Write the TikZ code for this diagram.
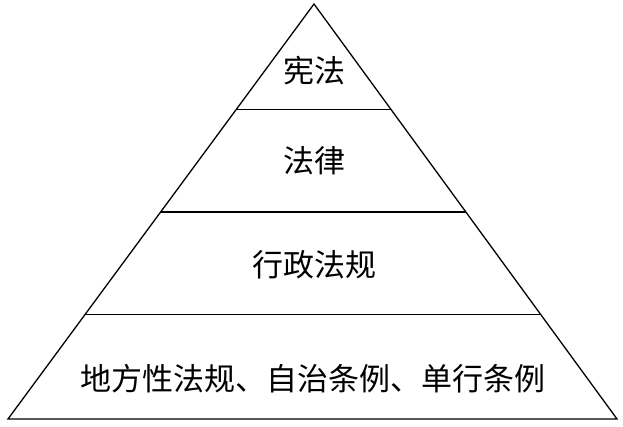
\documentclass[tikz,border=0pt]{standalone}
\usepackage{fontspec}
\setmainfont{Noto Sans CJK SC}
\usetikzlibrary{calc}

\begin{document}
\begin{tikzpicture}[x=1pt, y=1pt, line width=1.3pt,
    level/.style={font=\fontsize{31}{31}\selectfont, inner sep=0pt}]
    \useasboundingbox (0,0) rectangle (623,426);

    % Draw the pyramid
    \coordinate (top) at (314,422);
    \coordinate (left) at (8,7);
    \coordinate (right) at (617,7);
    \draw (left) -- (top) -- (right) -- cycle;

    % Draw the dividing lines
    \foreach \t in {0.255,0.501,0.749}
        \draw ($(top)!\t!(left)$) -- ($(top)!\t!(right)$);

    % Labels
    \node[level] (xianfa) at (314,355) {宪法};
    \node[level] (falv) at (314,265) {法律};
    \node[level] (xingzheng) at (314,161) {行政法规};
    \node[level] (difang) at (313,47) {地方性法规、自治条例、单行条例};
\end{tikzpicture}
\end{document}
